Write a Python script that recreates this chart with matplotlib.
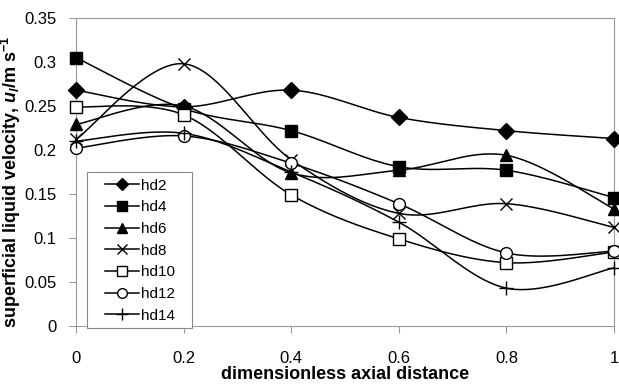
import numpy as np
import matplotlib
matplotlib.use('Agg')
import matplotlib.pyplot as plt
from matplotlib.patches import Rectangle

plt.rcParams['font.family'] = 'Liberation Sans'
plt.rcParams['mathtext.fontset'] = 'custom'
plt.rcParams['mathtext.rm'] = 'Liberation Sans:bold'
plt.rcParams['mathtext.it'] = 'Liberation Sans:italic:bold'
plt.rcParams['mathtext.bf'] = 'Liberation Sans:bold'

x = [0, 0.2, 0.4, 0.6, 0.8, 1.0]

hd2 = [0.268, 0.249, 0.268, 0.237, 0.222, 0.213]
hd4 = [0.305, 0.247, 0.222, 0.181, 0.177, 0.146]
hd6 = [0.229, 0.250, 0.174, 0.177, 0.194, 0.133]
hd8 = [0.212, 0.298, 0.189, 0.128, 0.139, 0.112]
hd10 = [0.249, 0.240, 0.149, 0.099, 0.072, 0.084]
hd12 = [0.202, 0.216, 0.185, 0.139, 0.083, 0.085]
hd14 = [0.210, 0.219, 0.175, 0.118, 0.043, 0.066]

series = [
    ('hd2', hd2, 'D', 'k'),
    ('hd4', hd4, 's', 'k'),
    ('hd6', hd6, '^', 'k'),
    ('hd8', hd8, 'x', 'k'),
    ('hd10', hd10, 's', 'none'),
    ('hd12', hd12, 'o', 'none'),
    ('hd14', hd14, '+', 'k'),
]


def smooth(xs, ys, n=40):
    # excel-like smoothed line (catmull-rom as bezier)
    px = np.array(xs, float)
    py = np.array(ys, float)
    px = np.concatenate([[px[0]], px, [px[-1]]])
    py = np.concatenate([[py[0]], py, [py[-1]]])
    outx, outy = [], []
    t = np.linspace(0, 1, n)
    for i in range(1, len(px) - 2):
        p0 = np.array([px[i], py[i]])
        p3 = np.array([px[i + 1], py[i + 1]])
        c1 = p0 + (np.array([px[i + 1], py[i + 1]]) - np.array([px[i - 1], py[i - 1]])) / 6
        c2 = p3 - (np.array([px[i + 2], py[i + 2]]) - np.array([px[i], py[i]])) / 6
        b = ((1 - t) ** 3)[:, None] * p0 + (3 * (1 - t) ** 2 * t)[:, None] * c1 \
            + (3 * (1 - t) * t ** 2)[:, None] * c2 + (t ** 3)[:, None] * p3
        outx.extend(b[:, 0])
        outy.extend(b[:, 1])
    return outx, outy


fig = plt.figure(figsize=(6.19, 3.85), dpi=100)
ax = fig.add_axes([76 / 619, 59 / 385, 538 / 619, 308 / 385])

sizes = {'D': 8, 's': 8, '^': 8.5, 'x': 9, 'o': 8.5, '+': 10}
for name, ys, m, fc in series:
    sx, sy = smooth(x, ys)
    ax.plot(sx, sy, color='k', lw=1.1, zorder=2)
    ms = sizes[m]
    face = fc if fc != 'none' else 'white'
    ax.plot(x, ys, ls='none', marker=m, markersize=ms, markerfacecolor=face,
            markeredgecolor='k', markeredgewidth=1.0, zorder=3, clip_on=False)
    ax.plot([], [], color='k', lw=1.1, marker=m, markersize=ms * 0.82,
            markerfacecolor=face, markeredgecolor='k',
            markeredgewidth=1.0, label=name)

ax.set_xlim(0, 1)
ax.set_ylim(0, 0.35)
ax.set_xticks([0, 0.2, 0.4, 0.6, 0.8, 1])
ax.set_xticklabels(['0', '0.2', '0.4', '0.6', '0.8', '1'])
ax.set_yticks(np.arange(0, 0.351, 0.05))
ax.set_yticklabels(['0', '0.05', '0.1', '0.15', '0.2', '0.25', '0.3', '0.35'])
ax.tick_params(labelsize=12, direction='out', length=5, color='#999999', width=0.8)
ax.tick_params(axis='x', pad=13)
ax.tick_params(axis='y', pad=9)

for s in ax.spines.values():
    s.set_color('#999999')
    s.set_linewidth(0.8)

ax.set_xlabel('dimensionless axial distance', fontsize=13, fontweight='bold', labelpad=0)
ax.set_ylabel(r'superficial liquid velocity, $u_l$/m s$^{-1}$', fontsize=13,
              fontweight='bold')
ax.yaxis.set_label_coords(-0.098, 0.4675)

# legend box (drawn separately so the inner padding matches)
box = Rectangle((0.0204, -0.0065), 0.1952, 0.5065, transform=ax.transAxes,
                facecolor='white', edgecolor='#888888', lw=0.8, zorder=4, clip_on=False)
ax.add_patch(box)
leg = ax.legend(loc='upper left', bbox_to_anchor=(0.054, 0.478), borderaxespad=0,
                fontsize=11, frameon=False, handlelength=2.22,
                labelspacing=0.5, borderpad=0, handletextpad=0.15)
leg.set_zorder(5)

fig.savefig('out.png', dpi=100)
